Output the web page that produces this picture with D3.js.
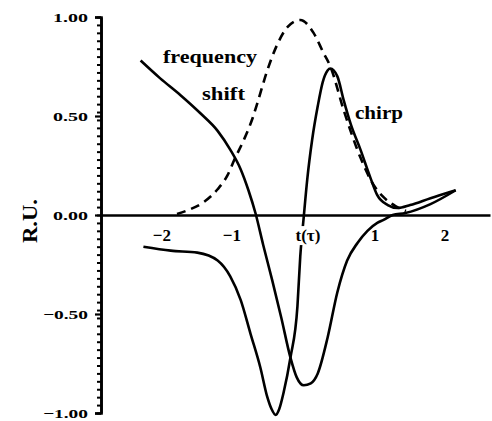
<html>
<script src='https://d3js.org/d3.v7.min.js'></script>
<body style="margin:0; background:#fff;">
<svg width=492 height=421></svg>
<script>

// values: t in pulse units, amplitude in R.U.
var freqT = [-2.34, -2.06, -1.77, -1.49, -1.24, -1.06, -0.91, -0.80, -0.70, -0.59, -0.46, -0.33, -0.20, -0.11, -0.01, 0.09, 0.19, 0.33, 0.47, 0.61, 0.76, 0.90, 1.04, 1.13, 1.26, 1.44, 1.80, 2.16];
var freqV = [0.78, 0.69, 0.605, 0.515, 0.425, 0.33, 0.23, 0.125, 0.01, -0.15, -0.33, -0.52, -0.72, -0.82, -0.86, -0.85, -0.80, -0.62, -0.39, -0.23, -0.14, -0.08, -0.04, -0.025, 0.0, 0.01, 0.055, 0.125];

var chirpT = [-2.30, -1.91, -1.53, -1.24, -1.06, -0.91, -0.77, -0.63, -0.53, -0.47, -0.41, -0.36, -0.30, -0.20, -0.10, -0.06, -0.01, 0.04, 0.11, 0.19, 0.26, 0.33, 0.37, 0.47, 0.56, 0.66, 0.80, 0.94, 1.04, 1.19, 1.33, 1.51, 1.80, 2.16];
var chirpV = [-0.16, -0.18, -0.19, -0.23, -0.31, -0.43, -0.60, -0.77, -0.92, -0.98, -1.01, -0.98, -0.90, -0.72, -0.46, -0.21, -0.01, 0.18, 0.38, 0.55, 0.67, 0.73, 0.74, 0.70, 0.58, 0.46, 0.33, 0.19, 0.10, 0.05, 0.035, 0.05, 0.085, 0.125];

var pulseT = [-1.82, -1.66, -1.44, -1.24, -1.10, -1.00, -0.84, -0.74, -0.66, -0.54, -0.39, -0.24, -0.06, 0.13, 0.27, 0.37, 0.56, 0.80, 0.99, 1.13, 1.30, 1.45];
var pulseV = [0.005, 0.025, 0.065, 0.13, 0.20, 0.28, 0.40, 0.49, 0.58, 0.72, 0.86, 0.95, 0.985, 0.92, 0.82, 0.75, 0.53, 0.29, 0.15, 0.09, 0.045, 0.02];

var xTicks = [-2, -1, 0, 1, 2];
var xTickLabels = ['\u22122', '\u22121', 't(\u03c4)', '1', '2'];
var yTicks = [1, 0.5, 0, -0.5, -1];
var yTickLabels = ['1.00', '0.50', '0.00', '\u22120.50', '\u22121.00'];

var font = "'Liberation Serif', serif";

var svg = d3.select('svg');
var x = d3.scaleLinear().domain([-2.92, 2.65]).range([100, 490]);
var y = d3.scaleLinear().domain([-1, 1]).range([413, 17]);

var line = d3.line()
    .x(d => x(d[0]))
    .y(d => y(d[1]))
    .curve(d3.curveMonotoneX);

var curves = svg.append('g').attr('fill', 'none').attr('stroke', '#000').attr('stroke-width', 2.6);

curves.append('path')
    .attr('d', line(d3.zip(pulseT, pulseV)))
    .attr('stroke-dasharray', '9,6');
curves.append('path')
    .attr('d', line(d3.zip(freqT, freqV)));
curves.append('path')
    .attr('d', line(d3.zip(chirpT, chirpV)));

// y axis: small ticks all the way, labelled ticks a bit longer
svg.append('g').attr('transform', 'translate(101,0)')
    .call(d3.axisLeft(y).tickValues(d3.range(-1, 1.001, 0.04)).tickSize(4).tickSizeOuter(0).tickFormat(''))
    .call(g => g.selectAll('line').attr('stroke-width', 2))
    .call(g => g.select('.domain').attr('stroke-width', 2.6));

var yAx = svg.append('g').attr('transform', 'translate(101,0)')
    .call(d3.axisLeft(y).tickValues(yTicks).tickSize(6).tickSizeOuter(6).tickPadding(7)
        .tickFormat((d, i) => yTickLabels[i]));
yAx.select('.domain').attr('stroke-width', 2.6);
yAx.selectAll('line').attr('stroke-width', 2.2);
yAx.selectAll('text')
    .attr('font-family', font).attr('font-weight', 'bold').attr('font-size', 13)
    .attr('textLength', d => d < 0 ? 45 : 35).attr('lengthAdjust', 'spacingAndGlyphs');

// x axis through zero
var xAx = svg.append('g').attr('transform', 'translate(0,' + y(0) + ')')
    .call(d3.axisBottom(x).tickValues(xTicks).tickSize(0).tickSizeOuter(0).tickPadding(14)
        .tickFormat((d, i) => xTickLabels[i]));
xAx.select('.domain').attr('stroke-width', 2.6);
xAx.selectAll('text')
    .attr('font-family', font).attr('font-weight', 'bold').attr('font-size', 17)
    .attr('text-anchor', d => d < 0 ? 'end' : 'middle')
    .attr('dx', d => d < 0 ? 6 : (d == 0 ? 3 : 0));
xAx.selectAll('.tick').filter(d => d == 0).each(function() {
    var t = d3.select(this).select('text');
    var b = t.node().getBBox();
    d3.select(this).insert('rect', 'text')
        .attr('x', b.x + 3).attr('y', b.y).attr('width', b.width).attr('height', b.height)
        .attr('fill', '#fff');
});

// labels
svg.append('text')
    .attr('transform', 'translate(37,221) rotate(-90)')
    .attr('text-anchor', 'middle')
    .attr('font-family', font).attr('font-weight', 'bold').attr('font-size', 21)
    .attr('textLength', 44).attr('lengthAdjust', 'spacingAndGlyphs')
    .text('R.U.');

svg.append('text').attr('x', 163).attr('y', 63)
    .attr('font-family', font).attr('font-weight', 'bold').attr('font-size', 18)
    .attr('textLength', 94).attr('lengthAdjust', 'spacingAndGlyphs')
    .text('frequency');
svg.append('text').attr('x', 202).attr('y', 100)
    .attr('font-family', font).attr('font-weight', 'bold').attr('font-size', 18)
    .attr('textLength', 43).attr('lengthAdjust', 'spacingAndGlyphs')
    .text('shift');
svg.append('text').attr('x', 355).attr('y', 119)
    .attr('font-family', font).attr('font-weight', 'bold').attr('font-size', 18)
    .attr('textLength', 48).attr('lengthAdjust', 'spacingAndGlyphs')
    .text('chirp');

</script>
</body>
</html>
